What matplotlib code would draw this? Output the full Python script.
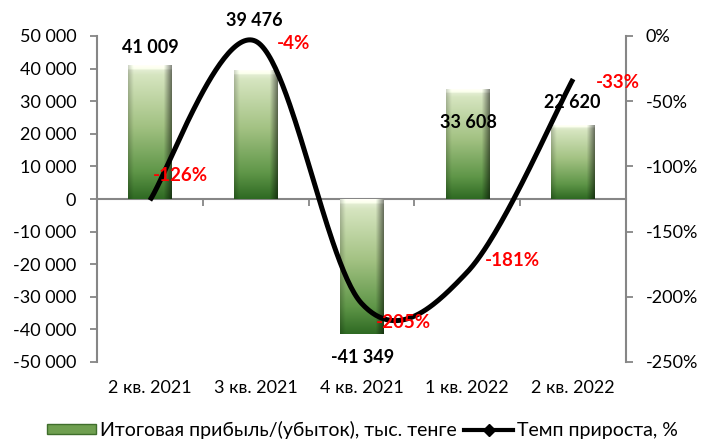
import numpy as np
import matplotlib
matplotlib.use("Agg")
import matplotlib.pyplot as plt
from matplotlib.patches import Patch
from matplotlib.lines import Line2D
from matplotlib.colors import to_rgb
import matplotlib.transforms as mtransforms

plt.rcParams['font.family'] = ['Lato', 'Noto Sans', 'DejaVu Sans']

# data
categories = ['2 кв. 2021', '3 кв. 2021', '4 кв. 2021', '1 кв. 2022', '2 кв. 2022']
profit = [41009, 39476, -41349, 33608, 22620]
growth = [-126, -4, -205, -181, -33]
profit_labels = ['41 009', '39 476', '-41 349', '33 608', '22 620']
growth_labels = ['-126%', '-4%', '-205%', '-181%', '-33%']

# label offsets in pixels (labels were moved by hand in the original)
profit_offsets = [(0, 18), (-1, 50), (1, -24), (1, -33), (-1, 23)]
growth_offsets = [(31, 25), (38, -2), (42, -19), (45, 12), (45, -3)]

axis_col = '#868686'


def smooth_line(xs, ys, n=60):
    # excel-like smoothing: cubic bezier with catmull-rom control points
    P = np.column_stack([xs, ys]).astype(float)
    out = []
    for i in range(len(P) - 1):
        p0 = P[i - 1] if i > 0 else P[i]
        p1 = P[i]
        p2 = P[i + 1]
        p3 = P[i + 2] if i + 2 < len(P) else P[i + 1]
        c1 = p1 + (p2 - p0) / 6
        c2 = p2 - (p3 - p1) / 6
        t = np.linspace(0, 1, n)[:, None]
        seg = (1 - t) ** 3 * p1 + 3 * (1 - t) ** 2 * t * c1 + 3 * (1 - t) * t ** 2 * c2 + t ** 3 * p2
        out.append(seg)
    out = np.vstack(out)
    return out[:, 0], out[:, 1]


def bar_image(h=120, w=40):
    stops = [(0.0, '#eef4e3'), (0.07, '#d6e5c0'), (0.45, '#a3c283'), (0.8, '#5f9648'), (1.0, '#2f6a23')]
    ts = np.linspace(0, 1, h)
    cols = np.zeros((h, 3))
    for k in range(3):
        cols[:, k] = np.interp(ts, [s[0] for s in stops], [to_rgb(s[1])[k] for s in stops])
    u = np.linspace(0, 1, w)
    fac = np.ones(w)
    fac[u < 0.12] = 0.8 + 0.2 * u[u < 0.12] / 0.12
    fac[u > 0.82] = 1 - 0.5 * (u[u > 0.82] - 0.82) / 0.18
    img = cols[:, None, :] * fac[None, :, None]
    # light bevel on the top edge
    img[:4, :, :] = np.clip(img[:4, :, :] + 0.08, 0, 1)
    return np.clip(img, 0, 1)


fig = plt.figure(figsize=(7.01, 4.41), dpi=100)
ax = fig.add_axes([97 / 701, 1 - 362 / 441, 529 / 701, 326 / 441])
ax2 = ax.twinx()

x = np.arange(len(categories))
bars = ax.bar(x, profit, width=0.41, color='none', edgecolor='none')
img = bar_image()
for b in bars:
    x0, y0 = b.get_x(), b.get_y()
    x1, y1 = x0 + b.get_width(), y0 + b.get_height()
    ax.imshow(img, extent=(x0, x1, min(y0, y1), max(y0, y1)), aspect='auto',
              interpolation='bilinear', zorder=2)

ax.set_xlim(-0.5, len(categories) - 0.5)
ax.set_ylim(-50000, 50000)
ax.set_yticks(np.arange(-50000, 50001, 10000))
ax.set_yticklabels([f'{v:,}'.replace(',', ' ') for v in range(-50000, 50001, 10000)])
ax.tick_params(axis='y', direction='out', length=5, width=1.3, color=axis_col,
               labelsize=13, pad=10, labelcolor='black')

ax.spines['bottom'].set_position(('data', 0))
ax.spines['bottom'].set_zorder(1)
for s in ['top', 'right']:
    ax.spines[s].set_visible(False)
for s in ['left', 'bottom']:
    ax.spines[s].set_color(axis_col)
    ax.spines[s].set_linewidth(1.5)
ax.set_xticks(np.arange(0.5, len(categories) - 0.5, 1))
ax.set_xticklabels([])
ax.tick_params(axis='x', direction='out', length=5, width=1.3, color=axis_col)

trans = mtransforms.blended_transform_factory(ax.transData, fig.transFigure)
for i, c in enumerate(categories):
    ax.text(i, 1 - 388 / 441, c, transform=trans, ha='center', va='center', fontsize=13)

for i, (v, lab) in enumerate(zip(profit, profit_labels)):
    ax.annotate(lab, (i, v), xytext=profit_offsets[i], textcoords='offset pixels',
                ha='center', va='center', fontsize=13, fontweight='bold', color='black', zorder=5)

# line on secondary axis
sx, sy = smooth_line(x, growth)
ax2.plot(sx, sy, color='black', lw=3.6, solid_capstyle='butt', zorder=3)
ax2.set_ylim(-250, 0)
ax2.set_yticks(np.arange(-250, 1, 50))
ax2.set_yticklabels([f'{v}%' for v in range(-250, 1, 50)])
ax2.tick_params(axis='y', direction='out', length=5, width=1.3, color=axis_col,
                labelsize=13, pad=9)
for s in ['top', 'left', 'bottom']:
    ax2.spines[s].set_visible(False)
ax2.spines['right'].set_color(axis_col)
ax2.spines['right'].set_linewidth(1.5)

for i, (v, lab) in enumerate(zip(growth, growth_labels)):
    ax2.annotate(lab, (i, v), xytext=growth_offsets[i], textcoords='offset pixels',
                 ha='center', va='center', fontsize=13.5, fontweight='bold', color='#ff0000', zorder=6)

handles = [Patch(facecolor='#6f9f50', edgecolor='#3f6e2c'),
           Line2D([], [], color='black', lw=3, marker='D', markersize=6)]
fig.legend(handles, ['Итоговая прибыль/(убыток), тыс. тенге', 'Темп прироста, %'],
           loc='center', bbox_to_anchor=(0.517, 1 - 430 / 441), ncol=2, frameon=False,
           fontsize=14, handlelength=2.5, handleheight=0.45, handletextpad=0.2, columnspacing=0.4)

fig.savefig('out.png', dpi=100)
